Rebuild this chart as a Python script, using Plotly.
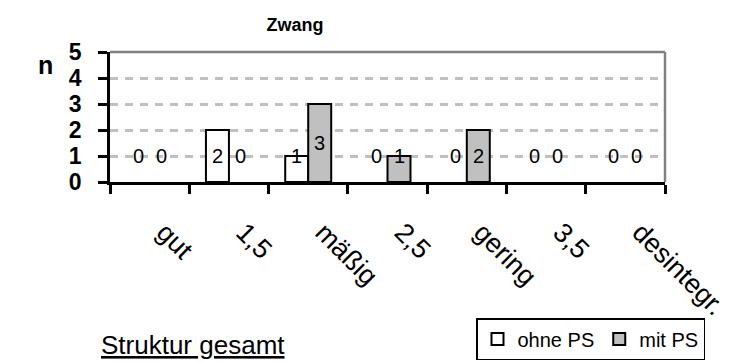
import plotly.graph_objects as go

categories = ["gut", "1,5", "mäßig", "2,5", "gering", "3,5", "desintegr."]
ohne_ps = [0, 2, 1, 0, 0, 0, 0]
mit_ps = [0, 0, 3, 1, 2, 0, 0]
y_ticks = [0, 1, 2, 3, 4, 5]

FONT = "Arial, Liberation Sans, sans-serif"

fig = go.Figure()
# zero-height bars are not drawn (as in the reference); their labels still show
fig.add_trace(go.Bar(name="ohne PS", x=categories, y=[v if v else None for v in ohne_ps],
                     marker=dict(color="white", line=dict(color="black", width=2))))
fig.add_trace(go.Bar(name="mit PS", x=categories, y=[v if v else None for v in mit_ps],
                     marker=dict(color="#c0c0c0", line=dict(color="black", width=2))))

# data labels
for series, shift in ((ohne_ps, -11.5), (mit_ps, 11.5)):
    for c, v in zip(categories, series):
        fig.add_annotation(x=c, y=max(v / 2, 1), text=str(v), showarrow=False,
                           xshift=shift, xanchor="center", yanchor="middle",
                           font=dict(family=FONT, size=20, color="black"),
                           xref="x", yref="y")

fig.add_annotation(xref="paper", yref="paper", x=(45 - 110) / 555, y=(182 - 65) / 130,
                   xanchor="center", yanchor="middle", showarrow=False,
                   text="n", font=dict(family=FONT, size=25, color="black", weight="bold"))

fig.add_annotation(xref="paper", yref="paper", x=(99 - 110) / 555, y=-(345 - 182) / 130,
                   xanchor="left", yanchor="middle", showarrow=False,
                   text="<u>Struktur gesamt</u>",
                   font=dict(family=FONT, size=26, color="black"))

# top and right plot border (gray)
fig.add_shape(type="line", xref="paper", yref="paper", x0=0, x1=1, y0=1, y1=1,
              line=dict(color="#808080", width=2.5))
fig.add_shape(type="line", xref="paper", yref="paper", x0=1, x1=1, y0=0, y1=1,
              line=dict(color="#808080", width=2.5))

fig.update_layout(
    width=735, height=362,
    margin=dict(l=110, r=70, t=52, b=180, autoexpand=False),
    paper_bgcolor="white", plot_bgcolor="white",
    barmode="group", bargap=0.42, bargroupgap=0,
    title=dict(text="Zwang", x=295 / 735, xref="container", xanchor="center",
               y=1 - 25 / 362, yanchor="middle",
               font=dict(family=FONT, size=18, color="black", weight="bold")),
    font=dict(family=FONT, color="black"),
    legend=dict(orientation="h", x=(476 - 110) / 555, y=-(318 - 182) / 130,
                xanchor="left", yanchor="top", bordercolor="black", borderwidth=1.5,
                font=dict(family=FONT, size=20, color="black"),
                itemwidth=30, tracegroupgap=0, itemclick=False),
    showlegend=True,
)
fig.update_xaxes(
    type="category", showline=True, linecolor="black", linewidth=2.5,
    ticks="outside", tickson="boundaries", ticklen=9, tickwidth=2.5, tickcolor="black",
    tickangle=45, ticklabelstandoff=21, ticklabelshift=15, automargin=False,
    tickfont=dict(family=FONT, size=27, color="black"),
    showgrid=False, zeroline=False,
)
fig.update_yaxes(
    range=[0, 5], tickvals=y_ticks, showline=True, linecolor="black", linewidth=2.5,
    ticks="outside", ticklen=9, tickwidth=2.5, tickcolor="black", automargin=False,
    ticklabelstandoff=12,
    tickfont=dict(family=FONT, size=23, color="black", weight="bold"),
    showgrid=True, gridcolor="#c0c0c0", griddash="8px,7px", gridwidth=2.5,
    zeroline=False,
)

fig.write_html("out.html", config={"displayModeBar": False},
               post_script="document.body.style.margin='0px';")
